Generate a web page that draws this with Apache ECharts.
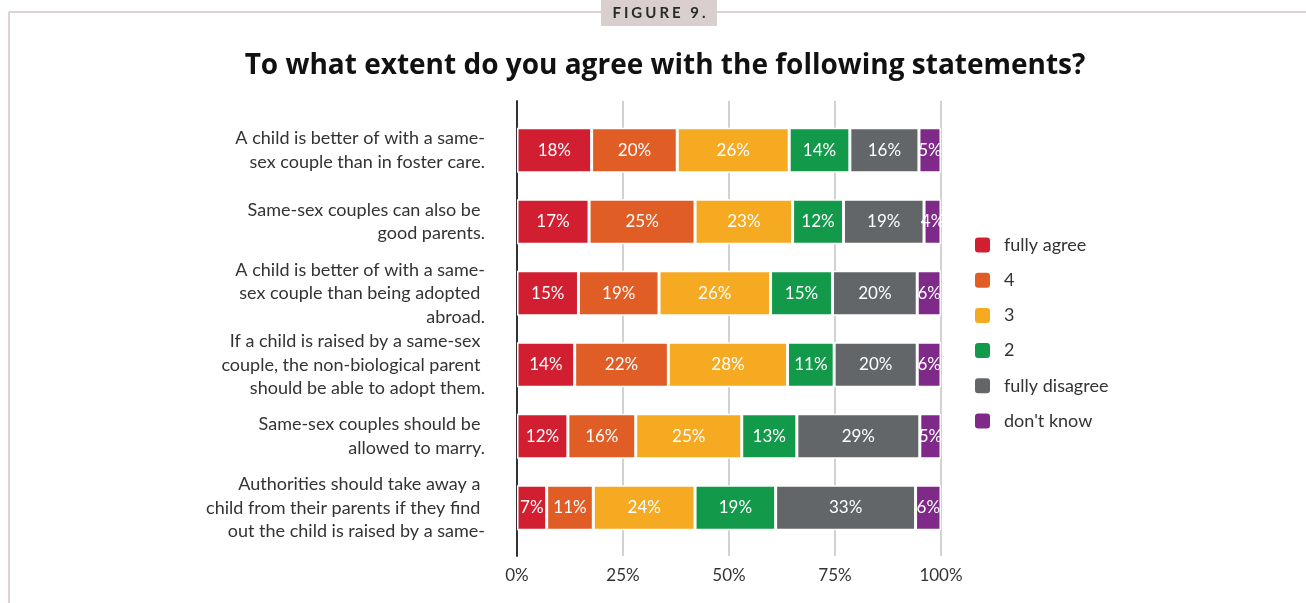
<!DOCTYPE html>
<html>
<head>
<meta charset="utf-8">
<style>
  html, body { margin: 0; padding: 0; background: #fff; }
  #chart { width: 1306px; height: 603px; }
  #fig {
    position: absolute; left: 601px; top: 0; width: 116px; height: 26px;
    color: #2a2a2a; font: bold 15px Lato, sans-serif;
    letter-spacing: 3px; text-align: center; line-height: 25px; padding-left: 3px; box-sizing: border-box;
  }
</style>
<script src="https://cdn.jsdelivr.net/npm/echarts@6/dist/echarts.min.js"></script>
</head>
<body>
<div id="chart"></div>
<div id="fig">FIGURE 9.</div>
<script>
// Statements, top to bottom
const statements = [
  'A child is better of with a same-\nsex couple than in foster care.',
  'Same-sex couples can also be \ngood parents.',
  'A child is better of with a same-\nsex couple than being adopted \nabroad.',
  'If a child is raised by a same-sex \ncouple, the non-biological parent \nshould be able to adopt them.',
  'Same-sex couples should be \nallowed to marry.',
  'Authorities should take away a \nchild from their parents if they find \nout the child is raised by a same-'
];

// Answer shares (%) per statement
const fullyAgree    = [17.6, 17, 14.5, 13.6, 12, 7];
const agree4        = [20.2, 25, 19.0, 22.1, 16, 11];
const neutral3      = [26.4, 23, 26.3, 28.1, 25, 24];
const disagree2     = [14.3, 12, 14.6, 11.0, 13, 19];
const fullyDisagree = [16.3, 19, 20.0, 19.6, 29, 33];
const dontKnow      = [5.2,   4,  5.6,  5.6,  5,  6];

const answerNames = ['fully agree', '4', '3', '2', 'fully disagree', "don't know"];
const answerColors = ['#d11f31', '#e15d26', '#f6aa22', '#129a4a', '#636669', '#7f2a88'];
const answerData = [fullyAgree, agree4, neutral3, disagree2, fullyDisagree, dontKnow];

const tickLabels = ['0%', '25%', '50%', '75%', '100%'];

const FONT = 'Lato, "Noto Sans", sans-serif';
const TITLE_FONT = '"Open Sans", "Noto Sans", sans-serif';
const chart = echarts.init(document.getElementById('chart'));

chart.setOption({
  animation: false,
  textStyle: { fontFamily: FONT },
  title: {
    text: 'To what extent do you agree with the following statements?',
    left: 660, textAlign: 'center', top: 47,
    textStyle: { fontFamily: TITLE_FONT, fontWeight: 'bold', fontSize: 28, color: '#111' }
  },
  legend: {
    orient: 'vertical', left: 973, top: 235.5, padding: 0,
    itemWidth: 17, itemHeight: 17, itemGap: 16.2,
    icon: 'roundRect',
    textStyle: { fontFamily: FONT, fontSize: 18, color: '#333', lineHeight: 17, padding: [0, 0, 0, 8] },
    data: answerNames
  },
  graphic: [
    { type: 'line', shape: { x1: 9, y1: 12, x2: 1306, y2: 12 }, style: { stroke: '#ddd2d2', lineWidth: 2 }, z: -1 },
    { type: 'line', shape: { x1: 9, y1: 12, x2: 9, y2: 603 }, style: { stroke: '#ddd2d2', lineWidth: 2 }, z: -1 },
    { type: 'rect', shape: { x: 601, y: 0, width: 116, height: 26 }, style: { fill: '#d9cfcf' }, z: 0 }
  ],
  grid: [
    { left: 517, right: 365, top: 101, bottom: 47 },
    { left: 517, right: 365, top: 114.5, bottom: 59.5 }
  ],
  xAxis: [
    {
      gridIndex: 0, type: 'value', min: 0, max: 100, interval: 25,
      axisLine: { show: false }, axisTick: { show: false },
      splitLine: { lineStyle: { color: '#d2d2d2', width: 2 } },
      axisLabel: {
        margin: 11, fontSize: 17, color: '#333', fontFamily: FONT,
        formatter: v => tickLabels[Math.round(v / 25)]
      }
    },
    { gridIndex: 1, type: 'value', min: 0, max: 100, show: false }
  ],
  yAxis: [
    {
      gridIndex: 0, type: 'value', min: 0, max: 1,
      axisLine: { show: true, lineStyle: { color: '#333', width: 2 } },
      axisTick: { show: false }, axisLabel: { show: false }, splitLine: { show: false }
    },
    {
      gridIndex: 1, type: 'category', inverse: true, data: statements,
      axisLine: { show: false }, axisTick: { show: false },
      axisLabel: { margin: 32, fontSize: 18, lineHeight: 23.5, color: '#333', align: 'right', fontFamily: FONT }
    }
  ],
  series: answerNames.map((name, i) => ({
    name: name,
    type: 'bar',
    stack: 'total',
    xAxisIndex: 1,
    yAxisIndex: 1,
    barWidth: 45,
    data: answerData[i],
    itemStyle: { color: answerColors[i], borderColor: '#fff', borderWidth: 1.5 },
    label: {
      show: true, position: 'inside', color: '#fff', fontSize: 17, fontFamily: FONT,
      formatter: p => Math.round(p.value) + '%'
    }
  }))
});
</script>
</body>
</html>
